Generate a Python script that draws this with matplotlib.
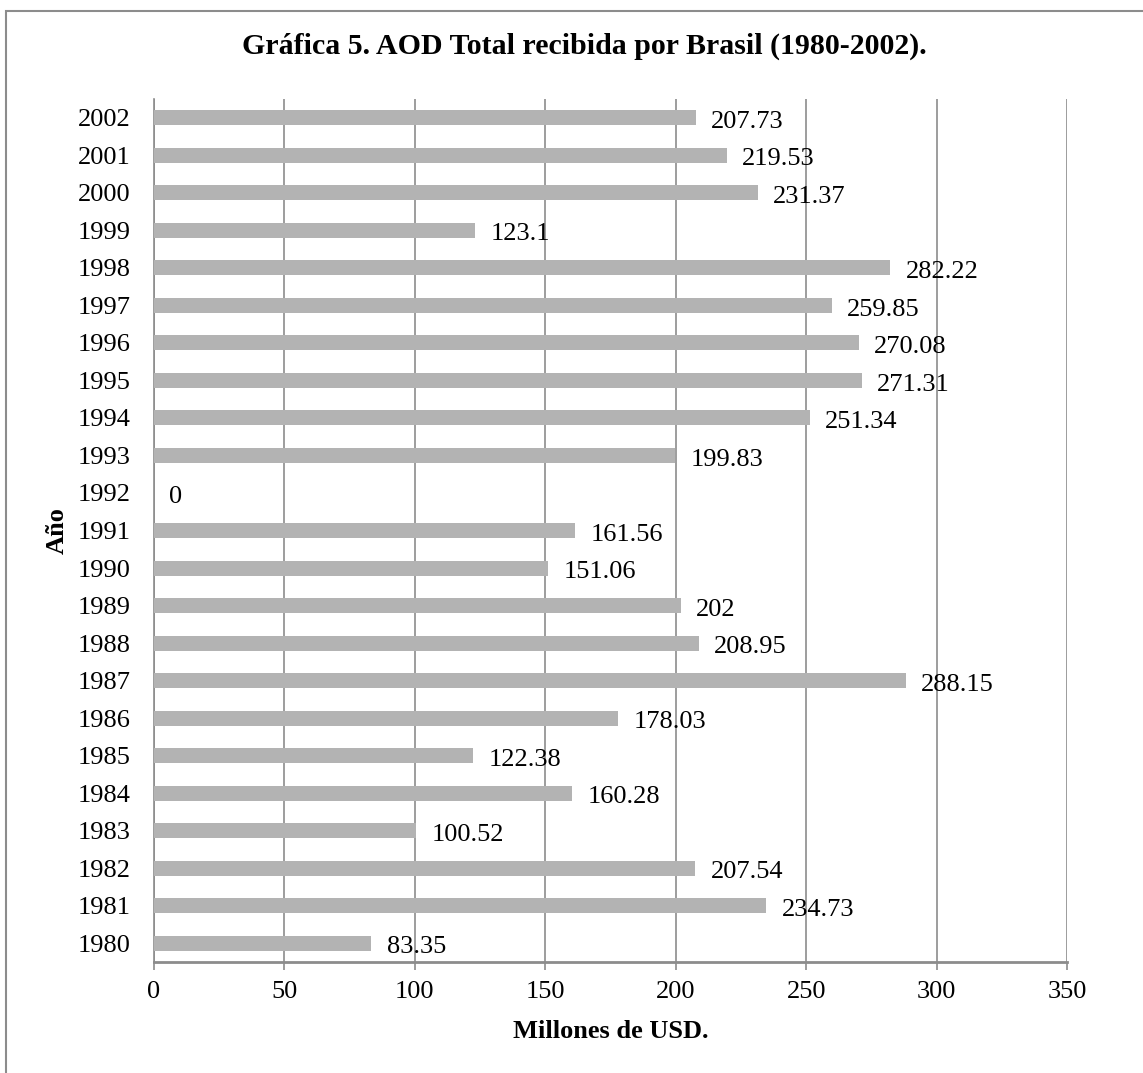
import matplotlib.pyplot as plt
from matplotlib.patches import Rectangle

years = [str(y) for y in range(1980, 2003)]
values = [83.35, 234.73, 207.54, 100.52, 160.28, 122.38, 178.03, 288.15,
          208.95, 202, 151.06, 161.56, 0, 199.83, 251.34, 271.31, 270.08,
          259.85, 282.22, 123.1, 231.37, 219.53, 207.73]
value_labels = ['83.35', '234.73', '207.54', '100.52', '160.28', '122.38',
                '178.03', '288.15', '208.95', '202', '151.06', '161.56', '0',
                '199.83', '251.34', '271.31', '270.08', '259.85', '282.22',
                '123.1', '231.37', '219.53', '207.73']
xticks = [0, 50, 100, 150, 200, 250, 300, 350]

plt.rcParams['font.family'] = ['Liberation Serif', 'DejaVu Serif']

W, H = 1143, 1073
fig = plt.figure(figsize=(W / 100, H / 100), dpi=100)
ax = fig.add_axes([154 / W, 1 - 962 / H, 913 / W, 863 / H])

grid_col = '#8c8c8c'
y = range(len(years))
ax.barh(y, values, height=0.4, color='#b3b3b3', zorder=3)

# value labels just right of each bar
for yi, v, lab in zip(y, values, value_labels):
    ax.annotate(lab, (v, yi), xytext=(11, -3), textcoords='offset points',
                ha='left', va='center', fontsize=19, zorder=4)

ax.set_xlim(0, 350)
ax.set_ylim(-0.5, len(years) - 0.5)
ax.set_xticks(xticks)
ax.set_xticklabels([str(t) for t in xticks], fontsize=19)
ax.set_yticks(list(y))
ax.set_yticklabels(years, fontsize=19)
ax.tick_params(axis='y', length=0, pad=17)
ax.tick_params(axis='x', length=6, width=1.2, color=grid_col, pad=8)

ax.grid(axis='x', color=grid_col, linewidth=1.2, zorder=0)
ax.set_axisbelow(True)
for s in ['top', 'right']:
    ax.spines[s].set_visible(False)
ax.spines['left'].set_color(grid_col)
ax.spines['left'].set_linewidth(1.2)
ax.spines['bottom'].set_color(grid_col)
ax.spines['bottom'].set_linewidth(2.0)

ax.set_xlabel('Millones de USD.', fontsize=19, fontweight='bold', labelpad=12)
ax.set_ylabel('Año', fontsize=19, fontweight='bold')
ax.yaxis.set_label_coords(-0.093, 0.5)

fig.text(584 / W, 1 - 46 / H, 'Gráfica 5. AOD Total recibida por Brasil (1980-2002).',
         ha='center', va='center', fontsize=21.5, fontweight='bold')

# chart frame (only left and top edges fall inside the image)
fig.patches.append(Rectangle((6 / W, -0.1), 1.2, 1.1 - 11 / H,
                             transform=fig.transFigure, fill=False,
                             edgecolor='#8c8c8c', linewidth=1.5))

fig.savefig('out.png', dpi=100)
